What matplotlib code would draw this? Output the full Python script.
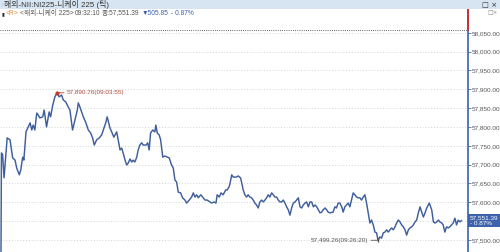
import matplotlib
matplotlib.use("Agg")
import matplotlib.pyplot as plt
from matplotlib.patches import Rectangle

# ---------------- data ----------------
# seconds after 09:00:00
secs = [0, 2, 7, 13, 26, 38, 49, 59, 66, 77, 83, 91, 96, 105, 114, 122, 129, 135, 142, 150, 156,
        163, 175, 181, 191, 202, 208, 217, 226, 235, 244, 254, 261, 272, 282, 289, 296, 300, 310,
        320, 324, 331, 338, 345, 356, 366, 376, 384, 391, 401, 412, 422, 429, 440, 445,
        457, 464, 473, 485, 491, 499, 506, 512, 520, 527, 533, 541, 548, 554, 561, 569, 575, 582,
        590, 596, 608, 615, 621, 627, 636, 645, 649, 655, 663, 669, 678, 687, 697, 705, 715, 722,
        729, 736, 743, 753, 761, 771, 778, 789, 799, 806, 813, 820, 827, 837, 845, 855, 864, 876,
        883, 892, 901, 906, 915, 922, 931, 942, 948, 956,
        960, 967, 973, 980, 987, 994, 1004, 1008, 1015, 1022, 1029, 1036, 1043, 1050, 1057, 1064,
        1071, 1078, 1085, 1092, 1099, 1106, 1113, 1120, 1127, 1134, 1141, 1148, 1155, 1162, 1169,
        1176, 1183, 1190, 1197, 1204, 1211, 1218, 1225, 1232, 1239, 1246, 1253, 1260, 1267, 1274,
        1281, 1288, 1295, 1302, 1309, 1316, 1323, 1330, 1337, 1344, 1350, 1358, 1365, 1371,
        1378, 1392, 1399, 1406, 1413, 1420, 1428, 1434, 1441, 1448, 1455, 1462, 1469, 1476, 1483,
        1490, 1497, 1504, 1511, 1518, 1525, 1532, 1539, 1546, 1553, 1560, 1567, 1574, 1580, 1588,
        1595, 1602, 1609, 1616, 1623, 1630, 1637, 1644, 1651, 1658, 1665, 1672, 1679, 1686, 1693,
        1700, 1707, 1714, 1721, 1728, 1735, 1742, 1749, 1756, 1763, 1770, 1777, 1784, 1795, 1805,
        1812, 1819, 1826, 1833, 1839, 1847, 1853, 1860, 1867, 1874, 1881, 1888, 1895, 1902, 1909,
        1916, 1923, 1930]
prices = [57440, 57731, 57726, 57665, 57771, 57766, 57718, 57712, 57691, 57673, 57686, 57720, 57712,
          57787, 57800, 57811, 57792, 57805, 57792, 57837, 57832, 57824, 57827, 57845, 57800,
          57840, 57827, 57858, 57880, 57890.76, 57880, 57885, 57872, 57866, 57853, 57845, 57811,
          57792, 57819, 57845, 57864, 57853, 57840, 57827, 57811, 57792, 57784, 57771, 57752,
          57766, 57771, 57779, 57792, 57813, 57827,
          57797, 57787, 57773, 57787, 57766, 57739, 57744, 57731, 57712, 57699, 57704, 57715,
          57707, 57712, 57707, 57720, 57739, 57752, 57758, 57752, 57752, 57758, 57739, 57784,
          57792, 57787, 57805, 57784, 57779, 57766, 57720, 57723, 57720, 57718, 57699, 57691,
          57659, 57654, 57627, 57625, 57612, 57606, 57598, 57606, 57614, 57625, 57614, 57620,
          57612, 57620, 57614, 57606, 57606, 57601, 57598, 57601, 57598, 57620, 57614, 57625,
          57620, 57633, 57633, 57641,
          57651, 57673, 57667, 57667, 57667, 57670, 57665, 57654, 57633, 57620, 57614, 57620,
          57614, 57612, 57606, 57598, 57593, 57585, 57601, 57606, 57601, 57606, 57612, 57620,
          57614, 57625, 57620, 57614, 57614, 57606, 57601, 57601, 57606, 57598, 57588, 57580,
          57566, 57585, 57598, 57601, 57606, 57612, 57588, 57585, 57593, 57598, 57601, 57588,
          57601, 57601, 57588, 57593, 57588, 57580, 57572, 57574, 57580, 57585, 57580, 57574,
          57572, 57574, 57588, 57585, 57598, 57598, 57588, 57574, 57588, 57593, 57598, 57588,
          57606, 57625, 57620, 57614, 57612, 57612, 57606, 57614, 57620, 57598, 57572, 57545,
          57553, 57540, 57521, 57519, 57499.26, 57508, 57505, 57519, 57521, 57527, 57521, 57527,
          57532, 57527, 57535, 57545, 57553, 57548, 57540, 57535, 57527, 57513, 57527, 57532,
          57535, 57540, 57548, 57553, 57572, 57588, 57574, 57561, 57572, 57585, 57598, 57580,
          57548, 57545, 57548, 57553, 57548, 57545, 57540, 57521, 57535, 57532, 57535, 57540,
          57545, 57558, 57540, 57553, 57548, 57551.39]

prev_close = 58057.24
last_price = 57551.39
change = -505.85
change_pct = -0.87
high_label = "57,890.76(09:03:55)"
low_label = "57,499.26(09:26:20)"
title_text = "해외-NII:NI225-니케이 225 (틱)"
info_name = "<해외-니케이 225>"
info_time = "09:32:10"
info_close = "종:57,551.39"
y_ticks = [57500, 57550, 57600, 57650, 57700, 57750, 57800, 57850, 57900, 57950, 58000, 58050]

# ---------------- figure ----------------
W, H = 500, 252
fig = plt.figure(figsize=(W / 100, H / 100), dpi=100)
fig.patch.set_facecolor("white")

FONT = ["Liberation Sans", "Noto Sans CJK KR", "DejaVu Sans"]
FS = 4.6
LINE_C = "#3f5e9c"

def px(x, y):
    return x / W, 1 - y / H

# plot area: x 0..468 px, y 10..252 px
ax = fig.add_axes([0, 0, 468 / W, (H - 10) / H])
ax.set_facecolor("white")
ax.set_xlim(-4, 1957)
ax.set_ylim(57468.1, 58110.6)

for v in y_ticks:
    ax.axhline(v, color="#cfcfcf", lw=0.6, ls=(0, (1.2, 2.2)), zorder=1)
ax.axhline(prev_close, color="#333333", lw=0.6, ls=(0, (1.0, 1.6)), zorder=2)

ax.plot(secs, prices, color=LINE_C, lw=1.05, zorder=3, solid_joinstyle="round")

# spines
for s in ["top", "left", "bottom"]:
    ax.spines[s].set_visible(False)
ax.spines["right"].set_color("#4a6fb0")
ax.spines["right"].set_linewidth(1.3)
ax.plot([1957, 1957], [prev_close, 58110.6], color="#d22b2b", lw=1.3,
        clip_on=False, zorder=5)

ax.yaxis.tick_right()
ax.set_yticks(y_ticks)
# the 57,550 label sits under the current-price box
ax.set_yticklabels(["" if abs(v - last_price) < 25 else f"{v:,.2f}" for v in y_ticks],
                   fontsize=FS, color="#555555", family=FONT)
ax.tick_params(axis="y", length=2, width=0.6, color="#4a6fb0", pad=1)
ax.set_xticks([])

# high annotation
hi_i = prices.index(max(prices))
ax.plot(secs[hi_i], prices[hi_i], marker="o", ms=2, color="#c0392b", zorder=6)
ax.annotate(high_label, xy=(secs[hi_i], prices[hi_i]), xytext=(7, 0),
            textcoords="offset points", va="center", ha="left", fontsize=FS,
            color="#b0483e", family=FONT,
            arrowprops=dict(arrowstyle="-", color="#c0392b", lw=0.6,
                            shrinkA=0, shrinkB=0))

# low annotation
lo_i = prices.index(min(prices[1:]))
ax.plot(secs[lo_i], prices[lo_i], marker="|", ms=3, color="#555555", zorder=6)
ax.annotate(low_label, xy=(secs[lo_i], prices[lo_i]), xytext=(-7, 0),
            textcoords="offset points", va="center", ha="right", fontsize=FS,
            color="#555555", family=FONT,
            arrowprops=dict(arrowstyle="-", color="#555555", lw=0.6,
                            shrinkA=0, shrinkB=0))

# current price box
ax.text(1.004, last_price, f"{last_price:,.2f}\n{change_pct:.2f}%".replace("-", "- "),
        transform=ax.get_yaxis_transform(), fontsize=FS, color="white",
        family=FONT, va="center", ha="left", linespacing=1.05, zorder=10,
        bbox=dict(boxstyle="square,pad=0.25", fc="#3d63ad", ec="none"),
        clip_on=False)

# title bar
fig.patches.append(Rectangle(px(0, 9), 1, 9 / H, transform=fig.transFigure,
                             fc="#d7e5f2", ec="none", zorder=0))
fig.text(*px(1, 4.8), ":", fontsize=FS, color="#777777", va="center", family=FONT)
fig.text(*px(4, 4.8), title_text, fontsize=5.7, color="#333333", va="center",
         family=FONT)
fig.text(*px(482, 4.8), "□ ×", fontsize=FS + 0.6, color="#333333", va="center",
         family=["DejaVu Sans"])

# info line, laid out piece by piece
renderer = fig.canvas.get_renderer()
pieces = [("▮", "#222222", 3.6, ["DejaVu Sans"], 1.0),
          ("<R>", "#e08a3c", 4.8, FONT, 2.0),
          (info_name, "#555555", 4.8, FONT, 1.0),
          (info_time, "#555555", 4.8, FONT, 1.5),
          (info_close, "#555555", 4.8, FONT, 2.0),
          (f"▼{abs(change):.2f}", "#3a5fb0", 4.8, FONT, 2.5),
          (f"{change_pct:.2f}%".replace("-", "- "), "#3a5fb0", 4.8, FONT, 0)]
cx = 1.5
for txt, col, fs, fam, gap in pieces:
    t = fig.text(*px(cx, 13.5), txt, fontsize=fs, color=col, va="center", family=fam)
    bb = t.get_window_extent(renderer)
    cx += bb.width + gap

fig.text(*px(487, 12.8), "□×", fontsize=FS - 0.4, color="#888888", va="center",
         family=["DejaVu Sans"])

fig.savefig("out.png", dpi=100)
